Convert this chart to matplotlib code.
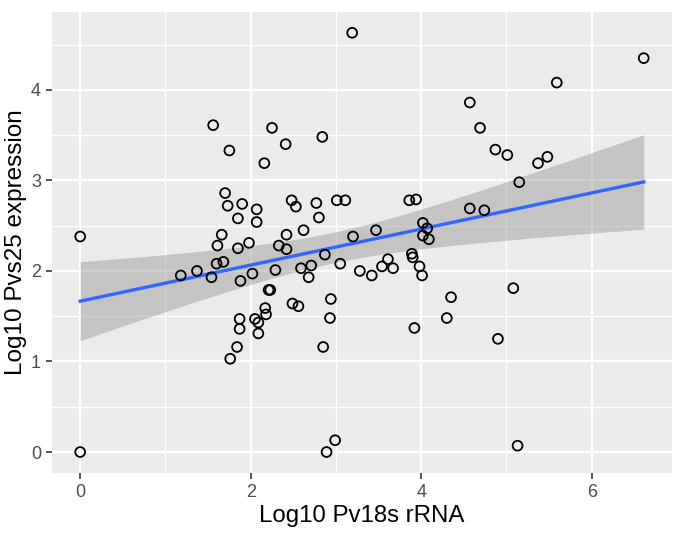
import numpy as np
import matplotlib.pyplot as plt
from matplotlib.ticker import MultipleLocator

plt.rcParams['font.family'] = ['Liberation Sans', 'DejaVu Sans']

# values
pv18s = [0.00, 0.00, 3.19, 6.61, 5.59, 4.57, 4.69, 4.87, 5.01, 5.37,
         5.48, 5.15, 4.57, 4.74, 1.56, 2.25, 1.75, 2.16, 2.41, 2.84,
         1.70, 1.73, 1.90, 2.07, 1.85, 2.07, 1.66, 2.48, 2.53, 2.77,
         2.80, 3.01, 3.11, 3.86, 3.94, 2.42, 2.62, 3.20, 3.47, 4.02,
         4.07, 4.02, 4.09, 1.61, 1.85, 1.98, 2.33, 2.42, 2.87, 3.89,
         3.90, 3.98, 4.01, 3.61, 3.54, 3.67, 3.28, 3.42, 3.05, 2.59,
         2.71, 2.68, 1.60, 1.68, 1.18, 1.37, 1.54, 1.88, 2.02, 2.29,
         2.21, 2.23, 1.87, 1.87, 2.05, 2.09, 2.17, 2.18, 2.09, 1.84,
         1.76, 2.49, 2.56, 2.94, 2.93, 2.85, 2.99, 2.89, 3.92, 4.30,
         4.35, 5.08, 4.90, 5.13]
pvs25 = [2.38, 0.00, 4.63, 4.35, 4.08, 3.86, 3.58, 3.34, 3.28, 3.19,
         3.26, 2.98, 2.69, 2.67, 3.61, 3.58, 3.33, 3.19, 3.40, 3.48,
         2.86, 2.72, 2.74, 2.68, 2.58, 2.54, 2.40, 2.78, 2.71, 2.75,
         2.59, 2.78, 2.78, 2.78, 2.79, 2.40, 2.45, 2.38, 2.45, 2.53,
         2.47, 2.39, 2.35, 2.28, 2.25, 2.31, 2.28, 2.24, 2.18, 2.19,
         2.15, 2.05, 1.95, 2.13, 2.05, 2.03, 2.00, 1.95, 2.08, 2.03,
         2.06, 1.93, 2.08, 2.10, 1.95, 2.00, 1.93, 1.89, 1.97, 2.01,
         1.79, 1.79, 1.47, 1.36, 1.47, 1.43, 1.59, 1.52, 1.31, 1.16,
         1.03, 1.64, 1.61, 1.69, 1.48, 1.16, 0.13, 0.00, 1.37, 1.48,
         1.71, 1.81, 1.25, 0.07]

x = np.array(pv18s)
y = np.array(pvs25)

# linear fit with 95% confidence band (like geom_smooth(method='lm'))
n = len(x)
slope, intercept = np.polyfit(x, y, 1)
resid = y - (intercept + slope * x)
s = np.sqrt(np.sum(resid ** 2) / (n - 2))
sxx = np.sum((x - x.mean()) ** 2)
t_crit = 1.986  # t(0.975, df=92)
xs = np.linspace(x.min(), x.max(), 100)
fit = intercept + slope * xs
se = s * np.sqrt(1 / n + (xs - x.mean()) ** 2 / sxx)

fig = plt.figure(figsize=(6.85, 5.35), dpi=100)
ax = fig.add_axes([0.0759, 0.1159, 0.905, 0.862])
ax.set_facecolor('#EBEBEB')

ax.fill_between(xs, fit - t_crit * se, fit + t_crit * se, color='#999999', alpha=0.47, lw=0, zorder=2)
ax.plot(xs, fit, color='#3366FF', lw=2.4, zorder=3)
ax.scatter(x, y, s=50, facecolors='none', edgecolors='black', linewidths=1.3, zorder=4)

# ggplot-style 5% expansion
xr = x.max() - x.min()
yr = y.max() - y.min()
ax.set_xlim(x.min() - 0.05 * xr, x.max() + 0.05 * xr)
ax.set_ylim(y.min() - 0.05 * yr, y.max() + 0.05 * yr)

ax.xaxis.set_major_locator(MultipleLocator(2))
ax.xaxis.set_minor_locator(MultipleLocator(1))
ax.yaxis.set_major_locator(MultipleLocator(1))
ax.yaxis.set_minor_locator(MultipleLocator(0.5))
ax.grid(which='major', color='white', lw=1.6, zorder=0)
ax.grid(which='minor', color='white', lw=0.8, zorder=0)
ax.set_axisbelow(True)
for sp in ax.spines.values():
    sp.set_visible(False)

ax.tick_params(which='major', length=4, width=1.2, color='#333333', labelsize=13, labelcolor='#4D4D4D', pad=4)
ax.tick_params(which='minor', length=0)

ax.set_xlabel('Log10 Pv18s rRNA', fontsize=17.3, labelpad=3)
ax.set_ylabel('Log10 Pvs25 expression', fontsize=17.5, labelpad=3)

fig.savefig('out.png', dpi=100)
